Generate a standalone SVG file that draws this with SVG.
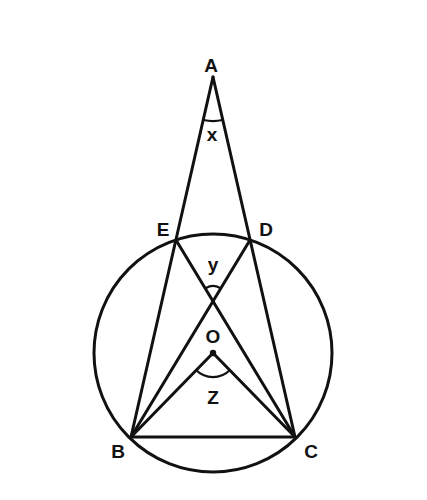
<svg xmlns="http://www.w3.org/2000/svg" width="427" height="500" viewBox="0 0 427 500">
<style>
.ln{stroke:#111;stroke-width:3;fill:none;stroke-linecap:round}
.ar{stroke:#111;stroke-width:2.2;fill:none}
.lb{font-family:"Liberation Sans",Arial,sans-serif;font-size:19px;font-weight:bold;fill:#111;text-anchor:middle}
</style>
<rect width="427" height="500" fill="#fff"/>
<g id="circle"><circle class="ln" cx="213" cy="353" r="119"/></g>
<g id="connectors">
<line class="ln" x1="213" y1="77" x2="131" y2="437"/>
<line class="ln" x1="213" y1="77" x2="295" y2="437"/>
<line class="ln" x1="131" y1="437" x2="295" y2="437"/>
<line class="ln" x1="131" y1="437" x2="250" y2="240"/>
<line class="ln" x1="295" y1="437" x2="176" y2="240"/>
<line class="ln" x1="131" y1="437" x2="213" y2="353"/>
<line class="ln" x1="295" y1="437" x2="213" y2="353"/>
</g>
<g id="angles">
<path class="ar" d="M203.5,120 A44,44 0 0 0 222.5,120"/>
<path class="ar" d="M206,288 A14,14 0 0 1 220,288"/>
<path class="ar" d="M196,370 A24,24 0 0 0 230,370"/>
</g>
<g id="A"><text class="lb" x="211" y="72">A</text></g>
<g id="E"><text class="lb" x="163" y="236">E</text></g>
<g id="D"><text class="lb" x="266" y="236">D</text></g>
<g id="B"><text class="lb" x="118" y="458">B</text></g>
<g id="C"><text class="lb" x="311" y="458">C</text></g>
<g id="O"><circle cx="213" cy="353" r="3.2" fill="#111"/><text class="lb" x="213" y="343">O</text></g>
<g id="labels">
<text class="lb" x="212" y="141">x</text>
<text class="lb" x="213" y="271">y</text>
<text class="lb" x="213" y="404">Z</text>
</g>
</svg>
